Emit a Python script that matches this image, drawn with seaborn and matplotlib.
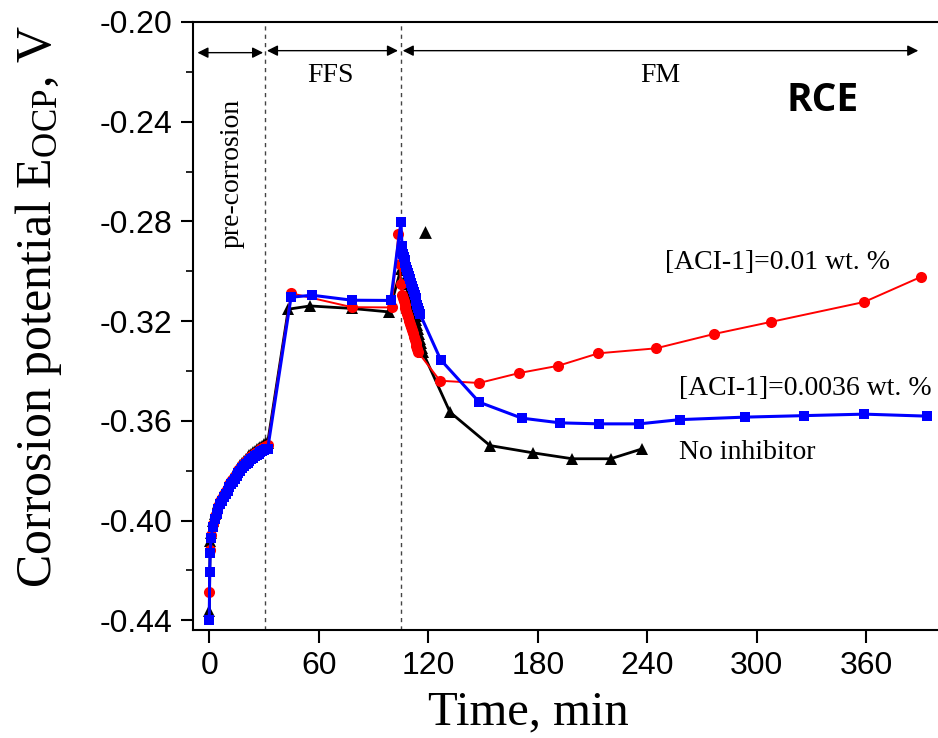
import numpy as np
import pandas as pd
import matplotlib
matplotlib.use("Agg")
import matplotlib.pyplot as plt
import seaborn as sns

# ---------------- data ----------------
pre_t = [1, 2, 3, 4, 5, 6, 7, 8, 9, 10, 11, 12, 13, 14, 15, 16, 17, 18, 19, 20,
         21, 22, 23, 24, 25, 26, 27, 28, 29, 30, 31, 32]

# [ACI-1]=0.0036 wt. %  (blue squares)
blue_t = ([0.0, 0.2, 0.5] + pre_t +
          [44.8, 56.3, 78.2, 99.4, 105.0, 105.6,
           106.0, 106.5, 107.0, 107.5, 108.0, 108.5, 109.0, 109.5, 110.0, 110.5,
           111.0, 111.5, 112.0, 112.5, 113.0, 113.5, 114.0, 114.5, 115.0, 115.5,
           126.8, 147.9, 171.2, 192.2, 213.7, 235.6, 257.9, 293.5, 325.9, 358.9, 393.1])
blue_e = [-0.4399, -0.4208, -0.4129,
          -0.4070, -0.4025, -0.3995, -0.3972, -0.3952, -0.3935, -0.3920, -0.3906,
          -0.3893, -0.3880, -0.3867, -0.3855, -0.3844, -0.3832, -0.3820, -0.3810,
          -0.3800, -0.3791, -0.3782, -0.3774, -0.3767, -0.3760, -0.3753, -0.3747,
          -0.3741, -0.3736, -0.3731, -0.3726, -0.3721, -0.3716, -0.3714, -0.3712,
          -0.3104, -0.3096, -0.3116, -0.3117, -0.2803, -0.2899,
          -0.2930, -0.2943, -0.2955, -0.2968, -0.2981, -0.2994, -0.3006, -0.3019,
          -0.3032, -0.3045, -0.3057, -0.3070, -0.3083, -0.3096, -0.3108, -0.3121,
          -0.3134, -0.3147, -0.3159, -0.3172,
          -0.3355, -0.3525, -0.3589, -0.3608, -0.3612, -0.3612, -0.3595, -0.3585,
          -0.3579, -0.3573, -0.3581]

# [ACI-1]=0.01 wt. %  (red circles)
red_t = ([0.1, 0.5] + pre_t +
         [44.8, 78.2, 99.9, 103.6, 104.5, 104.9,
          105.5, 106.0, 106.5, 107.0, 107.5, 108.0, 108.5, 109.0, 109.5, 110.0,
          110.5, 111.0, 111.5, 112.0, 112.5, 113.0, 113.5, 114.0, 114.5,
          126.4, 147.9, 169.9, 191.2, 213.2, 244.8, 276.3, 307.8, 358.9, 389.8])
red_e = [-0.4285, -0.4119,
         -0.4058, -0.4013, -0.3983, -0.3960, -0.3940, -0.3923, -0.3908, -0.3894,
         -0.3881, -0.3868, -0.3855, -0.3843, -0.3832, -0.3820, -0.3808, -0.3798,
         -0.3788, -0.3779, -0.3770, -0.3762, -0.3755, -0.3748, -0.3741, -0.3735,
         -0.3729, -0.3724, -0.3719, -0.3714, -0.3709, -0.3704, -0.3700, -0.3696,
         -0.3088, -0.3144, -0.3145, -0.2852, -0.2972, -0.3052,
         -0.3095, -0.3108, -0.3121, -0.3134, -0.3146, -0.3159, -0.3172, -0.3185,
         -0.3198, -0.3211, -0.3223, -0.3236, -0.3249, -0.3262, -0.3274, -0.3287,
         -0.3300, -0.3313, -0.3325,
         -0.3439, -0.3448, -0.3408, -0.3379, -0.3329, -0.3309, -0.3252, -0.3203,
         -0.3123, -0.3023]

# No inhibitor  (black triangles)
black_t = ([0.0, 0.5] + pre_t +
           [43.3, 55.2, 78.0, 98.6, 105.0,
            106.5, 107.0, 107.5, 108.0, 108.5, 109.0, 109.5, 110.0, 110.5, 111.0,
            111.5, 112.0, 112.5, 113.0, 113.5, 114.0, 114.5, 115.0, 115.5, 116.0,
            116.5, 117.0,
            131.9, 153.8, 177.2, 198.9, 219.9, 237.3])
black_e = [-0.4363, -0.4080,
           -0.4048, -0.4003, -0.3973, -0.3950, -0.3930, -0.3913, -0.3898, -0.3884,
           -0.3871, -0.3858, -0.3845, -0.3833, -0.3822, -0.3810, -0.3798, -0.3788,
           -0.3778, -0.3769, -0.3760, -0.3752, -0.3745, -0.3738, -0.3731, -0.3725,
           -0.3719, -0.3714, -0.3709, -0.3704, -0.3699, -0.3694, -0.3690, -0.3687,
           -0.3152, -0.3139, -0.3149, -0.3163, -0.2990,
           -0.2940, -0.2958, -0.2977, -0.2995, -0.3013, -0.3032, -0.3050, -0.3068,
           -0.3087, -0.3105, -0.3123, -0.3142, -0.3160, -0.3178, -0.3197, -0.3215,
           -0.3233, -0.3252, -0.3270, -0.3288, -0.3307, -0.3325,
           -0.3565, -0.3699, -0.3728, -0.3752, -0.3752, -0.3712]
black_extra_t = [118.0]
black_extra_e = [-0.2843]

phase_bounds = [30.5, 105.0]
x_ticks = [0, 60, 120, 180, 240, 300, 360]
y_ticks = [-0.44, -0.40, -0.36, -0.32, -0.28, -0.24, -0.20]

# ---------------- figure ----------------
sns.set_style("ticks")
plt.rcParams["font.family"] = ["Liberation Serif", "DejaVu Serif"]
plt.rcParams["mathtext.fontset"] = "custom"
plt.rcParams["mathtext.rm"] = "Liberation Serif"
plt.rcParams["mathtext.it"] = "Liberation Serif:italic"
plt.rcParams["text.color"] = "black"
plt.rcParams["axes.labelcolor"] = "black"

fig = plt.figure(figsize=(9.38, 7.38), dpi=100)
ax = fig.add_axes([0.2058, 0.1463, 0.7942, 0.8239])

df_black = pd.DataFrame({"t": black_t, "e": black_e})
df_red = pd.DataFrame({"t": red_t, "e": red_e})
df_blue = pd.DataFrame({"t": blue_t, "e": blue_e})

sns.lineplot(data=df_black, x="t", y="e", sort=False, estimator=None, ax=ax,
             color="black", lw=2.0, marker="^", markersize=9,
             markeredgewidth=0, legend=False)
sns.scatterplot(x=black_extra_t, y=black_extra_e, ax=ax, color="black",
                marker="^", s=85, linewidth=0, legend=False)
sns.lineplot(data=df_red, x="t", y="e", sort=False, estimator=None, ax=ax,
             color="#ff0000", lw=1.4, marker="o", markersize=8,
             markeredgewidth=0, legend=False)
sns.lineplot(data=df_blue, x="t", y="e", sort=False, estimator=None, ax=ax,
             color="#0000ff", lw=2.2, marker="s", markersize=7.5,
             markeredgewidth=0, legend=False)

for xb in phase_bounds:
    ax.axvline(xb, color="#444444", lw=1.0, ls=(0, (3, 3)), zorder=1)

# phase arrows
arr = dict(arrowstyle="<|-|>", color="black", lw=1.0, mutation_scale=16,
           shrinkA=0, shrinkB=0)
ax.annotate("", xy=(-6.5, -0.2123), xytext=(29.5, -0.2123), arrowprops=arr)
ax.annotate("", xy=(31.6, -0.2115), xytext=(103.4, -0.2115), arrowprops=arr)
ax.annotate("", xy=(106.0, -0.2115), xytext=(388.5, -0.2115), arrowprops=arr)

ax.text(66.3, -0.2215, "FFS", fontsize=20, ha="center", va="center")
ax.text(247.0, -0.2215, "FM", fontsize=20, ha="center", va="center")
ax.text(12.4, -0.2606, "pre-corrosion", fontsize=20, rotation=90,
        ha="center", va="center")
ax.text(336.0, -0.2313, "RCE", fontsize=28, fontweight="bold",
        family=["Open Sans", "DejaVu Sans"], ha="center", va="center")

ax.text(249.7, -0.2965, "[ACI-1]=0.01 wt. %", fontsize=20, ha="left", va="center")
ax.text(257.4, -0.3472, "[ACI-1]=0.0036 wt. %", fontsize=20, ha="left", va="center")
ax.text(257.4, -0.3725, "No inhibitor", fontsize=20, ha="left", va="center")

ax.set_xlim(-8.9, 399.3)
ax.set_ylim(-0.4439, -0.20)
ax.set_xticks(x_ticks)
ax.set_yticks(y_ticks)
ax.set_yticks([-0.42, -0.38, -0.34, -0.30, -0.26, -0.22], minor=True)
ax.set_xticklabels([str(v) for v in x_ticks],
                   family=["Liberation Sans", "DejaVu Sans"], fontsize=23)
ax.set_yticklabels([f"{v:.2f}" for v in y_ticks],
                   family=["Liberation Sans", "DejaVu Sans"], fontsize=23)
ax.tick_params(axis="both", which="major", direction="out", length=9, width=1.5,
               colors="black", pad=6)
ax.tick_params(axis="y", which="minor", direction="out", length=5, width=1.2,
               colors="black")

for side in ["left", "bottom", "top"]:
    ax.spines[side].set_linewidth(1.5)
    ax.spines[side].set_color("black")
ax.spines["right"].set_visible(False)

ax.set_xlabel("Time, min", fontsize=35, color="black")
ax.set_ylabel(r"Corrosion potential E$_\mathrm{OCP}$, V", fontsize=36,
              color="black")
ax.xaxis.label.set_va("bottom")
ax.xaxis.set_label_coords(0.45, -0.172)
ax.yaxis.set_label_coords(-0.173, 0.531)

fig.savefig("out.png", dpi=100)
